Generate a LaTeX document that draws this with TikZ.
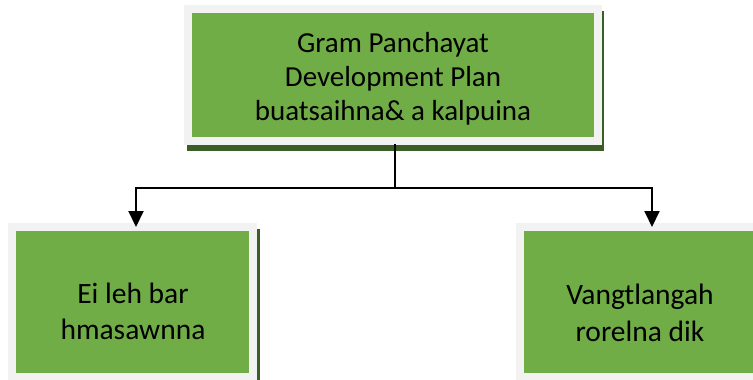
\documentclass[tikz,border=0pt]{standalone}
\usepackage{fontspec}
\setmainfont{Carlito}
\usetikzlibrary{arrows.meta,calc}
\definecolor{boxgreen}{HTML}{70AD47}
\definecolor{framegray}{HTML}{F2F2F2}
\definecolor{shadowgreen}{HTML}{3B5E27}
\tikzset{
  greenbox/.style={draw=framegray, fill=boxgreen, line width=8pt, inner sep=0pt, outer sep=0pt},
  shadowbox/.style={fill=shadowgreen, draw=none},
  boxtext/.style={anchor=base, inner sep=0pt, outer sep=0pt},
  link/.style={line width=2pt, draw=black},
  arrowlink/.style={link, -{Triangle[length=16pt,width=15pt]}},
}
\begin{document}
\begin{tikzpicture}[x=1pt,y=-1pt]
\useasboundingbox (0,0) rectangle (753,380);
\clip (0,0) rectangle (753,380);
% shadows
\fill[shadowbox] (187,11) rectangle (604,151);
\fill[shadowbox] (11,229) rectangle (260,390);
% boxes
\node[greenbox, minimum width=410pt, minimum height=132pt] (top) at (393,75) {};
\node[greenbox, minimum width=241pt, minimum height=150pt] (left) at (132.5,302) {};
\node[greenbox, minimum width=240pt, minimum height=150pt] (right) at (640,302) {};
% connectors
\coordinate (junction) at (395,188);
\coordinate (lefttip) at ($(left.north)+(3.5,0)$);
\coordinate (righttip) at ($(right.north)+(12,0)$);
\draw[link] ($(junction |- top.south)+(0,3)$) -- (junction);
\draw[arrowlink] (junction) -| (lefttip);
\draw[arrowlink] (junction) -| (righttip);
% texts
\node[boxtext] (toptext) at (393,52) {\fontsize{29}{34.5}\selectfont\begin{tabular}[t]{@{}c@{}}Gram Panchayat\\Development Plan\\buatsaihna\& a kalpuina\end{tabular}};
\node[boxtext] (lefttext) at (133,303) {\fontsize{29.5}{36}\selectfont\begin{tabular}[t]{@{}c@{}}Ei leh bar\\hmasawnna\end{tabular}};
\node[boxtext] (righttext) at (640,304) {\fontsize{29.5}{37}\selectfont\begin{tabular}[t]{@{}c@{}}Vangtlangah\\rorelna dik\end{tabular}};
\end{tikzpicture}
\end{document}
